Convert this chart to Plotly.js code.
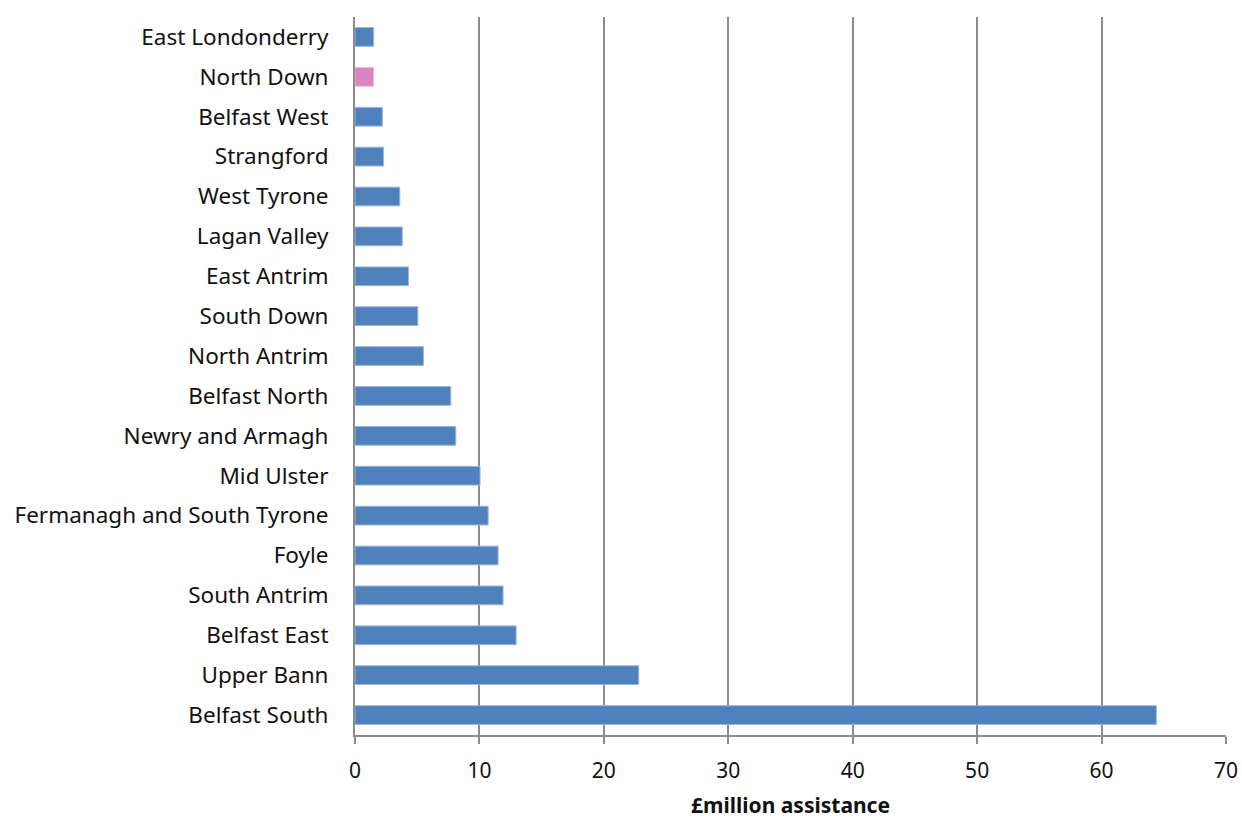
<!DOCTYPE html>
<html>
<head>
<meta charset="utf-8">
<script src="https://cdn.plot.ly/plotly-3.0.1.min.js"></script>
<style>html,body{margin:0;padding:0;background:#fff;}#chart{width:1242px;height:819px;}</style>
</head>
<body>
<div id="chart"></div>
<script>
const constituencies = ["East Londonderry","North Down","Belfast West","Strangford","West Tyrone","Lagan Valley","East Antrim","South Down","North Antrim","Belfast North","Newry and Armagh","Mid Ulster","Fermanagh and South Tyrone","Foyle","South Antrim","Belfast East","Upper Bann","Belfast South"];
const assistance = [1.5,1.5,2.2,2.3,3.6,3.8,4.3,5.05,5.5,7.7,8.1,10.05,10.7,11.5,11.9,12.95,22.8,64.4];
const highlighted = ["North Down"];
const xTicks = [0,10,20,30,40,50,60,70];

const colors = constituencies.map(c => highlighted.includes(c) ? "#DA84C4" : "#4F81BD");
const lineColors = constituencies.map(c => highlighted.includes(c) ? "#EEB8DE" : "#9DB5D8");

const trace = {
  type: "bar",
  orientation: "h",
  y: constituencies,
  x: assistance,
  marker: {color: colors, line: {color: lineColors, width: 1}},
  hoverinfo: "x+y"
};

const layout = {
  width: 1242, height: 819,
  margin: {l: 355, r: 16, t: 17, b: 84},
  paper_bgcolor: "#fff", plot_bgcolor: "#fff",
  bargap: 0.53,
  showlegend: false,
  font: {family: "Noto Sans, sans-serif", color: "#111"},
  xaxis: {
    range: [0, 70],
    tickvals: xTicks,
    ticktext: xTicks.map(String),
    showgrid: true, gridcolor: "#8c8c8c", gridwidth: 2,
    zeroline: false,
    showline: true, linecolor: "#8c8c8c", linewidth: 2,
    ticks: "outside", ticklen: 7, tickcolor: "#8c8c8c", tickwidth: 2,
    ticklabelstandoff: 9,
    tickfont: {size: 21, color: "#111"},
    title: {text: "<b>£million assistance</b>", font: {size: 21, color: "#111"}, standoff: 19},
    fixedrange: true
  },
  yaxis: {
    autorange: "reversed",
    type: "category",
    showgrid: false, zeroline: false,
    showline: true, linecolor: "#8c8c8c", linewidth: 2,
    ticks: "", ticklabelstandoff: 20,
    tickfont: {size: 22.5, color: "#111"},
    fixedrange: true
  }
};

Plotly.newPlot("chart", [trace], layout, {displayModeBar: false, staticPlot: true});
</script>
</body>
</html>
